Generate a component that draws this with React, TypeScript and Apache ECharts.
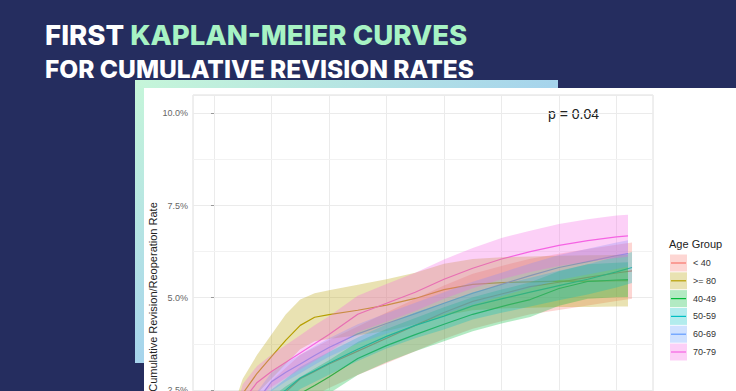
import React, { useEffect, useRef } from 'react';
import * as echarts from 'echarts';

const ageGroups = ['< 40', '>= 80', '40-49', '50-59', '60-69', '70-79'];
const groupColors = ['#F8766D', '#B79F00', '#00BA38', '#00BFC4', '#619CFF', '#F564E3'];

const timeGrid = [0, 0.25, 0.5, 0.75, 1, 1.25, 1.5, 1.75, 2, 2.5, 3, 3.5, 4, 4.5, 5, 5.5, 6, 6.5, 7];
const endTimes = [7.27, 7.2, 7.2, 7.27, 7.2, 7.2];

// cumulative revision rate (%) per age group
const estLt40 = [0, 0.6, 1.2, 1.65, 2.1, 2.45, 2.8, 3.0, 3.2, 3.55, 3.9, 4.25, 4.6, 4.9, 5.1, 5.3, 5.42, 5.55, 5.67, 5.73];
const hiLt40 = [0, 1.0, 1.75, 2.25, 2.75, 3.1, 3.45, 3.65, 3.85, 4.22, 4.6, 4.97, 5.33, 5.65, 5.86, 6.06, 6.19, 6.32, 6.44, 6.5];
const loLt40 = [0, 0.25, 0.7, 1.1, 1.5, 1.82, 2.15, 2.35, 2.55, 2.9, 3.22, 3.55, 3.88, 4.16, 4.36, 4.55, 4.67, 4.79, 4.91, 4.97];

const estGe80 = [0, 1.3, 2.4, 2.95, 3.4, 3.85, 4.25, 4.47, 4.54, 4.66, 4.8, 4.98, 5.22, 5.36, 5.41, 5.43, 5.45, 5.45, 5.46, 5.46];
const hiGe80 = [0, 1.65, 2.8, 3.45, 4.0, 4.55, 4.95, 5.12, 5.2, 5.35, 5.5, 5.68, 5.92, 6.05, 6.1, 6.12, 6.14, 6.15, 6.16, 6.16];
const loGe80 = [0, 0.95, 1.9, 2.4, 2.8, 3.2, 3.6, 3.82, 3.88, 3.98, 4.1, 4.28, 4.52, 4.66, 4.71, 4.73, 4.75, 4.75, 4.76, 4.76];

const est4049 = [0, 0.5, 1.0, 1.45, 1.85, 2.15, 2.4, 2.62, 2.85, 3.35, 3.7, 4.0, 4.28, 4.55, 4.76, 4.95, 5.25, 5.44, 5.48, 5.49];
const hi4049 = [0, 0.8, 1.4, 1.9, 2.3, 2.6, 2.85, 3.08, 3.3, 3.8, 4.15, 4.45, 4.74, 5.01, 5.22, 5.42, 5.72, 5.91, 5.95, 5.96];
const lo4049 = [0, 0.2, 0.6, 1.0, 1.4, 1.7, 1.95, 2.16, 2.4, 2.9, 3.25, 3.55, 3.82, 4.09, 4.3, 4.48, 4.78, 4.97, 5.01, 5.02];

const est5059 = [0, 0.6, 1.2, 1.75, 2.2, 2.5, 2.82, 3.02, 3.22, 3.6, 3.95, 4.25, 4.5, 4.78, 4.97, 5.15, 5.33, 5.5, 5.7, 5.82];
const hi5059 = [0, 0.85, 1.5, 2.05, 2.5, 2.8, 3.12, 3.33, 3.53, 3.92, 4.28, 4.6, 4.86, 5.15, 5.35, 5.54, 5.73, 5.91, 6.12, 6.24];
const lo5059 = [0, 0.35, 0.9, 1.45, 1.9, 2.2, 2.52, 2.71, 2.91, 3.28, 3.62, 3.9, 4.14, 4.41, 4.59, 4.76, 4.93, 5.09, 5.28, 5.4];

const est6069 = [0, 0.8, 1.55, 2.2, 2.72, 2.98, 3.2, 3.43, 3.65, 4.02, 4.3, 4.57, 4.85, 5.12, 5.36, 5.6, 5.82, 5.98, 6.14, 6.2];
const hi6069 = [0, 1.0, 1.8, 2.45, 2.97, 3.23, 3.45, 3.68, 3.9, 4.28, 4.58, 4.86, 5.15, 5.43, 5.68, 5.93, 6.16, 6.33, 6.5, 6.56];
const lo6069 = [0, 0.6, 1.3, 1.95, 2.47, 2.73, 2.95, 3.18, 3.4, 3.76, 4.02, 4.28, 4.55, 4.81, 5.04, 5.27, 5.48, 5.63, 5.78, 5.84];

const est7079 = [0, 0.9, 2.2, 2.7, 3.0, 3.25, 3.5, 3.75, 4.0, 4.55, 4.85, 5.15, 5.5, 5.8, 6.05, 6.25, 6.42, 6.55, 6.65, 6.68];
const hi7079 = [0, 1.25, 2.65, 3.15, 3.45, 3.72, 3.98, 4.25, 4.5, 5.05, 5.37, 5.68, 6.04, 6.35, 6.62, 6.82, 7.0, 7.13, 7.23, 7.25];
const lo7079 = [0, 0.6, 1.8, 2.28, 2.58, 2.82, 3.05, 3.28, 3.52, 4.07, 4.35, 4.64, 4.97, 5.26, 5.5, 5.7, 5.86, 5.98, 6.08, 6.11];

const estimates = [estLt40, estGe80, est4049, est5059, est6069, est7079];
const uppers = [hiLt40, hiGe80, hi4049, hi5059, hi6069, hi7079];
const lowers = [loLt40, loGe80, lo4049, lo5059, lo6069, lo7079];

const xGridLines = [0, 1, 2, 3, 4, 5, 6, 7];
const yMinorGridLines = [1.25, 3.75, 6.25, 8.75];

const titleLine1White = 'FIRST ';
const titleLine1Green = 'KAPLAN-MEIER CURVES';
const titleLine2 = 'FOR CUMULATIVE REVISION RATES';
const yAxisTitle = 'Cumulative Revision/Reoperation Rate';
const legendTitle = 'Age Group';
const pValueText = 'p = 0.04';

const FONT = '"Liberation Sans", Arial, Helvetica, sans-serif';
const TITLE_FONT = 'Inter, "Open Sans", sans-serif';

function rgba(hex: string, a: number) {
  const n = parseInt(hex.slice(1), 16);
  return `rgba(${(n >> 16) & 255},${(n >> 8) & 255},${n & 255},${a})`;
}

export default function App() {
  const ref = useRef<HTMLDivElement>(null);

  useEffect(() => {
    if (!ref.current) return;
    const chart = echarts.init(ref.current, undefined, { renderer: 'svg' });
    const times = ageGroups.map((_, i) => [...timeGrid, endTimes[i]]);

    const lineSeries = ageGroups.map((g, i) => ({
      type: 'line',
      name: g,
      data: times[i].map((t, k) => [t, estimates[i][k]]),
      showSymbol: false,
      symbol: 'none',
      z: 2,
      silent: true,
      lineStyle: { color: groupColors[i], width: 1.2 },
      itemStyle: { color: groupColors[i] },
    }));

    const bandSeries = ageGroups.map((g, i) => ({
      type: 'custom',
      name: g + ' CI',
      z: 3,
      silent: true,
      data: [[0, 0]],
      encode: { x: 0, y: 1 },
      renderItem: (_p: any, api: any) => {
        const t = times[i];
        const pts: number[][] = [];
        for (let k = 0; k < t.length; k++) pts.push(api.coord([t[k], uppers[i][k]]));
        for (let k = t.length - 1; k >= 0; k--) pts.push(api.coord([t[k], lowers[i][k]]));
        return {
          type: 'polygon',
          shape: { points: pts },
          style: { fill: rgba(groupColors[i], 0.3), stroke: null },
        };
      },
    }));

    const gridSeries = {
      type: 'line',
      name: 'grid',
      data: [],
      z: 1,
      silent: true,
      markLine: {
        z: 1,
        silent: true,
        symbol: ['none', 'none'],
        label: { show: false },
        animation: false,
        data: [
          ...xGridLines.map((v) => ({ xAxis: v, lineStyle: { color: '#EBEBEB', width: 1, type: 'solid' } })),
          ...yMinorGridLines.map((v) => ({ yAxis: v, lineStyle: { color: '#F2F2F2', width: 1, type: 'solid' } })),
        ],
      },
    };

    const legendItems: any[] = [
      {
        type: 'text',
        x: 669,
        y: 244,
        style: { text: legendTitle, fontSize: 11, fontFamily: FONT, fill: '#222', textVerticalAlign: 'middle', verticalAlign: 'middle' },
      },
    ];
    ageGroups.forEach((g, i) => {
      const cy = 263 + i * 17.8;
      legendItems.push(
        { type: 'rect', shape: { x: 670, y: cy - 8.5, width: 17, height: 17 }, style: { fill: rgba(groupColors[i], 0.3) } },
        { type: 'line', shape: { x1: 671, y1: cy, x2: 686, y2: cy }, style: { stroke: groupColors[i], lineWidth: 1.2 } },
        {
          type: 'text',
          x: 693,
          y: cy,
          style: { text: g, fontSize: 9, fontFamily: FONT, fill: '#333', verticalAlign: 'middle', textVerticalAlign: 'middle' },
        }
      );
    });

    chart.setOption({
      animation: false,
      backgroundColor: 'transparent',
      grid: {
        left: 193,
        top: 95,
        width: 460,
        height: 387,
        show: true,
        borderColor: '#DEDEDE',
        borderWidth: 1,
        backgroundColor: 'transparent',
      },
      xAxis: {
        type: 'value',
        min: -0.365,
        max: 7.635,
        show: false,
        splitLine: { show: false },
      },
      yAxis: {
        type: 'value',
        min: 0,
        max: 10.5,
        interval: 2.5,
        axisLine: { show: false },
        axisTick: { show: true, length: 3, lineStyle: { color: '#999' } },
        axisLabel: {
          formatter: (v: number) => v.toFixed(1) + '%',
          fontSize: 9,
          color: '#666',
          fontFamily: FONT,
          margin: 5,
          showMaxLabel: false,
        },
        splitLine: { show: true, lineStyle: { color: '#EBEBEB', width: 1 } },
      },
      graphic: [
        {
          type: 'text',
          x: 45,
          y: 35,
          style: {
            text: `{w|${titleLine1White}}{g|${titleLine1Green}}`,
            verticalAlign: 'middle',
            textVerticalAlign: 'middle',
            rich: {
              w: { fill: '#FFFFFF', fontSize: 27.6, fontWeight: 800, fontFamily: TITLE_FONT },
              g: { fill: '#A7F3C4', fontSize: 27.6, fontWeight: 800, fontFamily: TITLE_FONT },
            },
          },
        },
        {
          type: 'text',
          x: 45,
          y: 69,
          style: {
            text: titleLine2,
            fill: '#FFFFFF',
            fontSize: 24.5,
            fontWeight: 800,
            fontFamily: TITLE_FONT,
            verticalAlign: 'middle',
            textVerticalAlign: 'middle',
          },
        },
        {
          type: 'text',
          x: 153,
          y: 297,
          rotation: Math.PI / 2,
          style: {
            text: yAxisTitle,
            fontSize: 11,
            fontFamily: FONT,
            fill: '#222',
            align: 'center',
            textAlign: 'center',
            verticalAlign: 'middle',
            textVerticalAlign: 'middle',
          },
        },
        {
          type: 'text',
          x: 548,
          y: 114,
          style: { text: pValueText, fontSize: 14, fontFamily: FONT, fill: '#222', verticalAlign: 'middle', textVerticalAlign: 'middle' },
        },
        ...legendItems,
      ],
      series: [gridSeries, ...lineSeries, ...bandSeries],
    } as any);

    return () => chart.dispose();
  }, []);

  return (
    <div style={{ position: 'fixed', left: 0, top: 0, width: 736, height: 391, overflow: 'hidden', background: '#252D5F' }}>
      <div
        style={{
          position: 'absolute',
          left: 135,
          top: 80,
          width: 423,
          height: 283,
          background: 'linear-gradient(to bottom right, #C6F6D9 0%, #A6D4EC 50%, #9CC1F4 100%)',
        }}
      />
      <div style={{ position: 'absolute', left: 144, top: 88, width: 592, height: 303, background: '#FFFFFF' }} />
      <div ref={ref} style={{ position: 'absolute', left: 0, top: 0, width: 736, height: 500 }} />
    </div>
  );
}
